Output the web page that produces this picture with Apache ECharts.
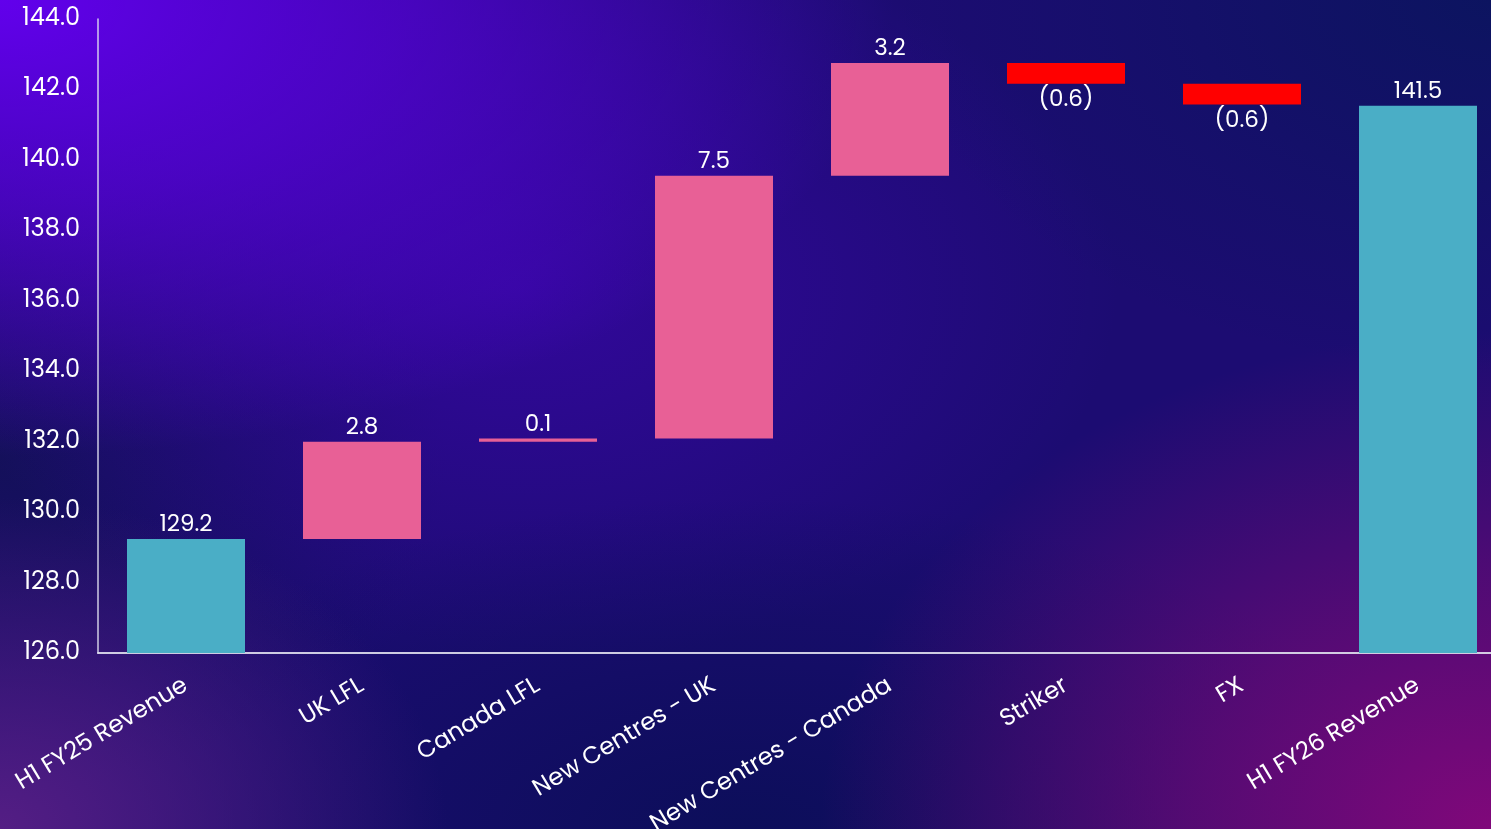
<!DOCTYPE html>
<html>
<head>
<meta charset="utf-8">
<script src="https://cdn.jsdelivr.net/npm/echarts@6/dist/echarts.min.js"></script>
<style>
html, body { margin: 0; padding: 0; width: 1491px; height: 829px; overflow: hidden; }
body {
  background-color: #1c0c72;
  background-image:
    radial-gradient(ellipse 60% 55% at 0% 0%, rgba(98,0,236,1) 0%, rgba(98,0,236,0.6) 45%, rgba(98,0,236,0) 100%),
    radial-gradient(ellipse 45% 60% at 100% 100%, rgba(128,8,122,1) 0%, rgba(110,10,118,0.7) 45%, rgba(110,10,118,0) 100%),
    radial-gradient(ellipse 30% 40% at 0% 100%, rgba(84,30,132,1) 0%, rgba(84,30,132,0) 100%),
    radial-gradient(ellipse 40% 45% at 100% 0%, rgba(12,20,96,1) 0%, rgba(12,20,96,0) 100%),
    radial-gradient(ellipse 45% 40% at 50% 100%, rgba(12,14,90,1) 0%, rgba(12,14,90,0) 100%),
    radial-gradient(ellipse 40% 45% at 35% 35%, rgba(58,6,170,0.75) 0%, rgba(58,6,170,0) 100%),
    radial-gradient(ellipse 30% 40% at 0% 55%, rgba(20,16,90,1) 0%, rgba(20,16,90,0) 100%);
}
#chart { width: 1491px; height: 829px; }
</style>
</head>
<body>
<div id="chart"></div>
<script>
// ---- data ----
var categories = ['H1 FY25 Revenue', 'UK LFL', 'Canada LFL', 'New Centres - UK', 'New Centres - Canada', 'Striker', 'FX', 'H1 FY26 Revenue'];
var totalValues = [129.24, null, null, null, null, null, null, 141.54];
var changeValues = [null, 2.76, 0.09, 7.46, 3.2, -0.59, -0.59, null];
var yTicks = [126, 128, 130, 132, 134, 136, 138, 140, 142, 144];

// ---- derive waterfall series ----
var r2 = function (v) { return Math.round(v * 100) / 100; };
var running = totalValues[0];
var baseData = [], upData = [], downData = [], totalData = [];
for (var i = 0; i < categories.length; i++) {
  var c = changeValues[i];
  if (c === null) {
    baseData.push('-'); upData.push('-'); downData.push('-');
    totalData.push(totalValues[i]);
  } else {
    totalData.push('-');
    if (c >= 0) {
      baseData.push(r2(running)); upData.push(c); downData.push('-');
    } else {
      baseData.push(r2(running + c)); upData.push('-'); downData.push(-c);
    }
    running = r2(running + c);
  }
}

var FONT = 'Poppins, "Open Sans", Lato, sans-serif';
var chart = echarts.init(document.getElementById('chart'), null, { renderer: 'canvas' });
chart.setOption({
  backgroundColor: 'transparent',
  animation: false,
  grid: { left: 98, right: -15, top: 19, bottom: 176, containLabel: false, outerBoundsMode: 'none' },
  xAxis: {
    type: 'category',
    data: categories,
    axisLine: { show: true, lineStyle: { color: 'rgba(225,225,240,0.9)', width: 2 } },
    axisTick: { show: false },
    axisLabel: {
      interval: 0, rotate: 31, margin: 31, hideOverlap: false,
      color: '#ffffff', fontSize: 24, fontFamily: FONT
    },
    splitLine: { show: false }
  },
  yAxis: {
    type: 'value',
    min: yTicks[0], max: yTicks[yTicks.length - 1], interval: 2,
    axisLine: { show: true, lineStyle: { color: 'rgba(225,225,240,0.9)', width: 1.5 } },
    axisTick: { show: false },
    splitLine: { show: false },
    axisLabel: {
      margin: 18, color: '#ffffff', fontSize: 24, fontFamily: FONT, padding: [4, 0, 0, 0],
      formatter: function (v) { return v.toFixed(1); }
    }
  },
  series: [
    {
      name: 'Total', type: 'bar', data: totalData, barWidth: 118, barGap: '-100%',
      itemStyle: { color: '#4aaec6' },
      label: { show: true, position: 'top', distance: 2, color: '#ffffff', fontSize: 23, fontFamily: FONT,
        formatter: function (p) { return p.value.toFixed(1); } }
    },
    {
      name: 'Base', type: 'bar', stack: 'wf', data: baseData, barWidth: 118, barGap: '-100%',
      itemStyle: { color: 'transparent' }, silent: true
    },
    {
      name: 'Increase', type: 'bar', stack: 'wf', data: upData, barWidth: 118, barGap: '-100%',
      itemStyle: { color: '#e86096' },
      label: { show: true, position: 'top', distance: 2, color: '#ffffff', fontSize: 23, fontFamily: FONT,
        formatter: function (p) { return p.value.toFixed(1); } }
    },
    {
      name: 'Decrease', type: 'bar', stack: 'wf', data: downData, barWidth: 118, barGap: '-100%',
      itemStyle: { color: '#ff0000' },
      label: { show: true, position: 'bottom', distance: 5, color: '#ffffff', fontSize: 23, fontFamily: FONT,
        formatter: function (p) { return '(' + p.value.toFixed(1) + ')'; } }
    }
  ]
});
</script>
</body>
</html>
